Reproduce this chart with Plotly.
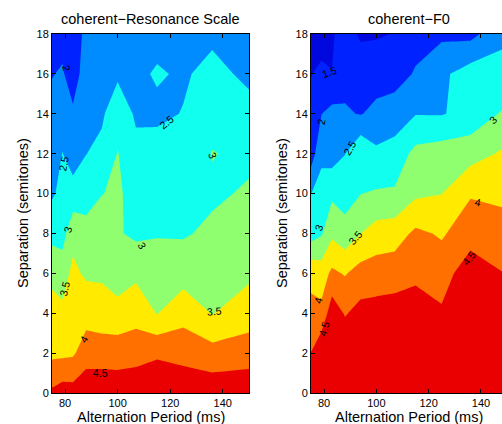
import plotly.graph_objects as go

# ---------------- data ----------------
PERIOD_MS = [75, 79, 83, 88, 94, 100, 107, 115, 125, 136, 150]
SEPARATION_ST = [0, 2, 4, 6, 8, 10, 12, 14, 16, 18]

# rating grid, rows = separation, columns = alternation period
Z_RESONANCE = [
    [4.59, 4.74, 4.71, 4.85, 4.89, 4.85, 4.87, 4.87, 4.84, 4.83, 4.85],
    [3.89, 3.89, 3.93, 4.27, 4.24, 4.24, 4.30, 4.43, 4.34, 4.19, 4.27],
    [3.60, 3.60, 3.75, 3.80, 3.75, 3.71, 3.81, 3.48, 3.81, 3.48, 3.75],
    [3.43, 3.30, 3.60, 3.43, 3.42, 3.20, 3.40, 3.30, 3.30, 3.30, 3.41],
    [2.82, 2.79, 3.37, 3.14, 3.21, 3.05, 2.90, 2.96, 2.95, 3.10, 3.24],
    [2.44, 2.62, 2.69, 2.83, 2.99, 3.06, 2.85, 2.85, 2.82, 2.92, 3.06],
    [2.30, 2.51, 2.27, 2.49, 2.64, 3.02, 2.65, 2.70, 2.68, 3.02, 2.90],
    [2.15, 2.30, 2.08, 2.35, 2.42, 2.85, 2.42, 2.40, 2.52, 2.82, 2.67],
    [1.98, 2.05, 1.76, 2.24, 2.30, 2.41, 2.40, 2.55, 2.44, 2.65, 2.39],
    [1.80, 1.85, 1.70, 2.14, 2.25, 2.30, 2.25, 2.35, 2.38, 2.40, 2.30],
]

Z_F0 = [
    [4.80, 5.10, 5.05, 4.95, 5.00, 5.02, 5.00, 5.05, 4.98, 5.03, 5.00],
    [4.51, 4.94, 4.90, 4.90, 4.90, 4.90, 4.90, 4.90, 4.85, 4.95, 4.90],
    [4.11, 4.12, 4.80, 4.46, 4.66, 4.69, 4.72, 4.73, 4.57, 4.90, 4.80],
    [3.89, 3.76, 4.10, 3.96, 4.20, 4.24, 4.28, 4.40, 4.27, 4.81, 4.48],
    [2.77, 2.95, 3.40, 3.18, 3.49, 3.72, 3.77, 4.10, 3.945, 4.27, 4.20],
    [2.49, 2.70, 2.90, 2.80, 2.99, 3.05, 3.07, 3.41, 3.49, 3.96, 3.88],
    [1.75, 2.385, 2.27, 2.49, 2.965, 2.60, 2.68, 3.15, 3.25, 3.30, 3.60],
    [1.60, 1.99, 2.15, 2.05, 1.975, 2.12, 2.26, 2.48, 2.47, 2.66, 3.115],
    [1.49, 1.56, 1.505, 1.86, 1.70, 1.80, 1.78, 2.05, 2.40, 2.74, 2.60],
    [1.40, 1.38, 1.46, 1.65, 1.45, 1.45, 1.52, 1.80, 1.90, 1.85, 2.45],
]

LEVEL_START, LEVEL_END, LEVEL_STEP = 1.5, 4.5, 0.5

X_TICKS = [80, 100, 120, 140]
Y_TICKS = [0, 2, 4, 6, 8, 10, 12, 14, 16, 18]

TITLES = ["coherent\u2212Resonance Scale", "coherent\u2212F0"]
X_TITLE = "Alternation Period (ms)"
Y_TITLE = "Separation (semitones)"

# contour labels: (text, period, separation, angle)
LABELS_RESONANCE = [
    ("2", 80.6, 16.3, 75), ("2.5", 79.3, 11.5, -78), ("2.5", 118.6, 13.6, -38),
    ("3", 136.4, 11.9, 70), ("3", 81.2, 8.2, -74), ("3", 109.1, 7.4, 60),
    ("3.5", 79.9, 5.25, -77), ("3.5", 137.0, 4.1, -5), ("4", 87.2, 2.7, -60),
    ("4.5", 93.3, 1.0, 0),
]
LABELS_F0 = [
    ("1.5", 82.0, 16.1, -20), ("2", 78.8, 13.6, -79), ("2.5", 89.7, 12.3, -60),
    ("3", 78.2, 8.3, -70), ("3.5", 92.2, 7.8, -50), ("4", 77.8, 4.66, -75),
    ("4.5", 80.0, 3.2, -74), ("4.5", 135.5, 6.75, -52), ("4", 138.7, 9.6, 10),
    ("3", 144.5, 13.7, -45),
]

# ---------------- styling ----------------
BAND_COLORS = [
    "rgb(0,8,222)", "rgb(0,34,255)", "rgb(0,140,255)", "rgb(16,255,239)",
    "rgb(143,255,112)", "rgb(255,234,0)", "rgb(255,112,0)", "rgb(234,0,0)",
]
n = len(BAND_COLORS) - 1
COLORSCALE = [[i / n, c] for i, c in enumerate(BAND_COLORS)]

FONT = "Liberation Sans, Arial, Helvetica, sans-serif"
W, H = 502, 424
AX_L = (52 / W, 249 / W)
AX_R = (311 / W, 1.0)
AX_Y = (31 / H, 390 / H)
RIGHT_XMAX = 75 + (502 - 311) / 2.615

fig = go.Figure()
for z, xa, ya in [(Z_RESONANCE, "x", "y"), (Z_F0, "x2", "y2")]:
    fig.add_trace(go.Contour(
        x=PERIOD_MS, y=SEPARATION_ST, z=z, xaxis=xa, yaxis=ya,
        colorscale=COLORSCALE, showscale=False, hoverinfo="skip",
        autocontour=False,
        contours=dict(start=LEVEL_START, end=LEVEL_END, size=LEVEL_STEP,
                      coloring="fill", showlines=False),
        line=dict(width=0, smoothing=0),
    ))

axis_common = dict(
    showline=True, linecolor="black", linewidth=1, ticks="inside", ticklen=4,
    tickcolor="black", tickwidth=1, showgrid=False, zeroline=False,
    tickfont=dict(family=FONT, size=11, color="black"), automargin=False,
)

fig.update_layout(
    width=W, height=H, template="none",
    margin=dict(l=0, r=0, t=0, b=0),
    paper_bgcolor="white", plot_bgcolor="white",
    font=dict(family=FONT, color="black"),
    showlegend=False,
    xaxis=dict(domain=list(AX_L), range=[75, 150], tickvals=X_TICKS, mirror="ticks",
               anchor="y", **axis_common),
    yaxis=dict(domain=list(AX_Y), range=[0, 18], tickvals=Y_TICKS, mirror="ticks",
               anchor="x", **axis_common),
    xaxis2=dict(domain=list(AX_R), range=[75, RIGHT_XMAX], tickvals=X_TICKS,
                mirror="ticks", anchor="y2", **axis_common),
    yaxis2=dict(domain=list(AX_Y), range=[0, 18], tickvals=Y_TICKS, mirror=False,
                anchor="x2", **axis_common),
)

ann = []
centers = [(52 + 249) / 2 / W, (311 + 507) / 2 / W]
ytitle_x = [22.5 / W, 281.5 / W]
for i in range(2):
    ann.append(dict(text=TITLES[i], xref="paper", yref="paper", x=centers[i],
                    y=(H - 19) / H, xanchor="center", yanchor="middle",
                    showarrow=False, font=dict(family=FONT, size=14.5, color="black")))
    ann.append(dict(text=X_TITLE, xref="paper", yref="paper", x=centers[i],
                    y=(H - 417) / H, xanchor="center", yanchor="middle",
                    showarrow=False, font=dict(family=FONT, size=14.5, color="black")))
    ann.append(dict(text=Y_TITLE, xref="paper", yref="paper", x=ytitle_x[i],
                    y=(H - 213.5) / H, xanchor="center", yanchor="middle", textangle=-90,
                    showarrow=False, font=dict(family=FONT, size=14.5, color="black")))

for labels, xr, yr in [(LABELS_RESONANCE, "x", "y"), (LABELS_F0, "x2", "y2")]:
    for t, xv, yv, ang in labels:
        ann.append(dict(text=t, xref=xr, yref=yr, x=xv, y=yv, showarrow=False,
                        textangle=ang, xanchor="center", yanchor="middle",
                        font=dict(family=FONT, size=10.5, color="black")))

fig.update_layout(annotations=ann)

fig.write_html("out.html", config={"displayModeBar": False},
               post_script="document.body.style.margin='0';document.body.style.padding='0';")
